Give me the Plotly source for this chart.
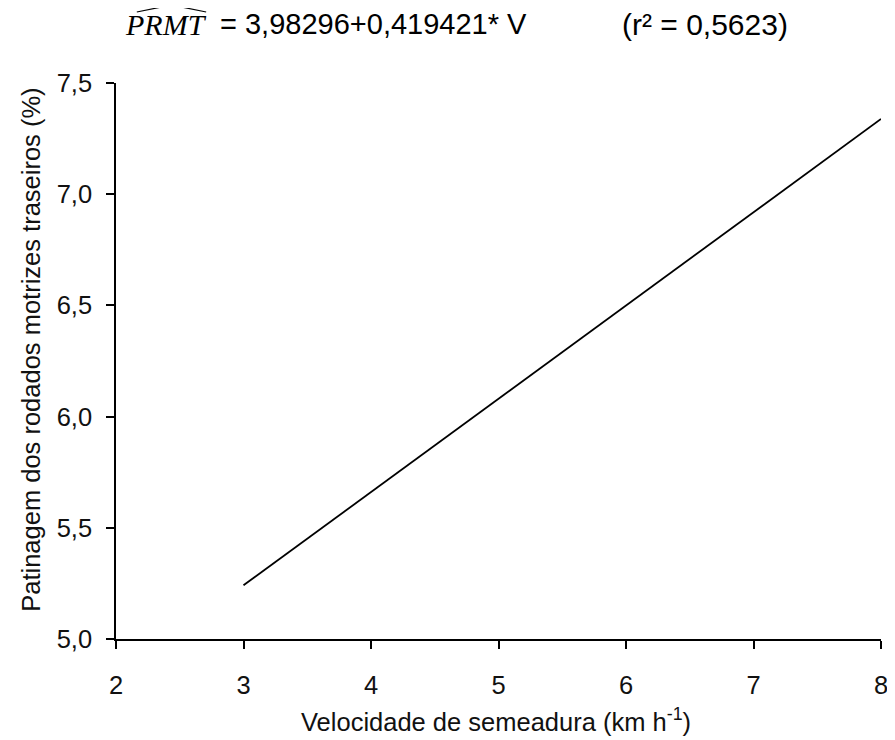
import plotly.graph_objects as go

# Data
velocidade = [3, 8]
intercepto = 3.98296
inclinacao = 0.419421
patinagem = [intercepto + inclinacao * v for v in velocidade]

x_ticks = [2, 3, 4, 5, 6, 7, 8]
y_ticks = [5.0, 5.5, 6.0, 6.5, 7.0, 7.5]
y_tick_labels = ["5,0", "5,5", "6,0", "6,5", "7,0", "7,5"]

# page has an 8px body margin, so the figure is drawn at (8, 8)
OFF = 8
W, H = 895 - OFF, 740 - OFF
PL, PR, PT, PB = 116, 888, 83, 639  # plot area in page pixels
L, T = PL - OFF, PT - OFF
R, B = W - (PR - OFF), H - (PB - OFF)

def px(x):
    return (x - PL) / (PR - PL)

def py(y):
    return (PB - y) / (PB - PT)

FONT = "Liberation Sans, Arial, sans-serif"
TXT = "#111111"

fig = go.Figure()
fig.add_trace(go.Scatter(
    x=velocidade, y=patinagem, mode="lines",
    line=dict(color="black", width=1.8), showlegend=False, hoverinfo="skip"
))

fig.update_layout(
    width=W, height=H,
    margin=dict(l=L, r=R, t=T, b=B, pad=0),
    paper_bgcolor="white", plot_bgcolor="white",
    font=dict(family=FONT, color=TXT, size=25),
    xaxis=dict(
        range=[2, 8], tickvals=x_ticks, ticktext=[str(t) for t in x_ticks],
        showgrid=False, zeroline=False, showline=True, linecolor="black", linewidth=1.6,
        ticks="outside", ticklen=8, tickwidth=1.6, tickcolor="black",
        tickfont=dict(size=25.5, family=FONT, color=TXT), ticklabelstandoff=15,
        ticklabeloverflow="allow",
    ),
    yaxis=dict(
        range=[5.0, 7.5], tickvals=y_ticks, ticktext=y_tick_labels,
        showgrid=False, zeroline=False, showline=True, linecolor="black", linewidth=1.6,
        ticks="outside", ticklen=8, tickwidth=1.6, tickcolor="black",
        tickfont=dict(size=25.5, family=FONT, color=TXT), ticklabelstandoff=9,
        ticklabeloverflow="allow",
    ),
)

# Axis titles
fig.add_annotation(xref="paper", yref="paper", x=px(499), y=py(720), xanchor="center", yanchor="middle",
                   text="Velocidade de semeadura (km h<sup>-1</sup>)", showarrow=False,
                   font=dict(family=FONT, size=25.5, color=TXT))
fig.add_annotation(xref="paper", yref="paper", x=px(30), y=py(350), xanchor="center", yanchor="middle",
                   text="Patinagem dos rodados motrizes traseiros (%)", showarrow=False, textangle=-90,
                   font=dict(family=FONT, size=25.5, color=TXT))

# Equation header
fig.add_annotation(xref="paper", yref="paper", x=px(210), y=py(24), xanchor="right", yanchor="middle",
                   text="<i>PRMT</i>", showarrow=False,
                   font=dict(family="Liberation Serif, DejaVu Serif, serif", size=30, color="black"))
fig.add_annotation(xref="paper", yref="paper", x=px(376), y=py(24), xanchor="center", yanchor="middle",
                   text="= 3,98296+0,419421* V", showarrow=False,
                   font=dict(family=FONT, size=29, color="black"))
fig.add_annotation(xref="paper", yref="paper", x=px(710), y=py(24), xanchor="center", yanchor="middle",
                   text="(r² = 0,5623)", showarrow=False,
                   font=dict(family=FONT, size=30, color="black"))
fig.add_shape(type="path", xref="paper", yref="paper",
              path=f"M {px(137)},{py(12)} L {px(172)},{py(5)} L {px(207)},{py(12)}",
              line=dict(color="black", width=1.2))

fig.write_html("out.html")
